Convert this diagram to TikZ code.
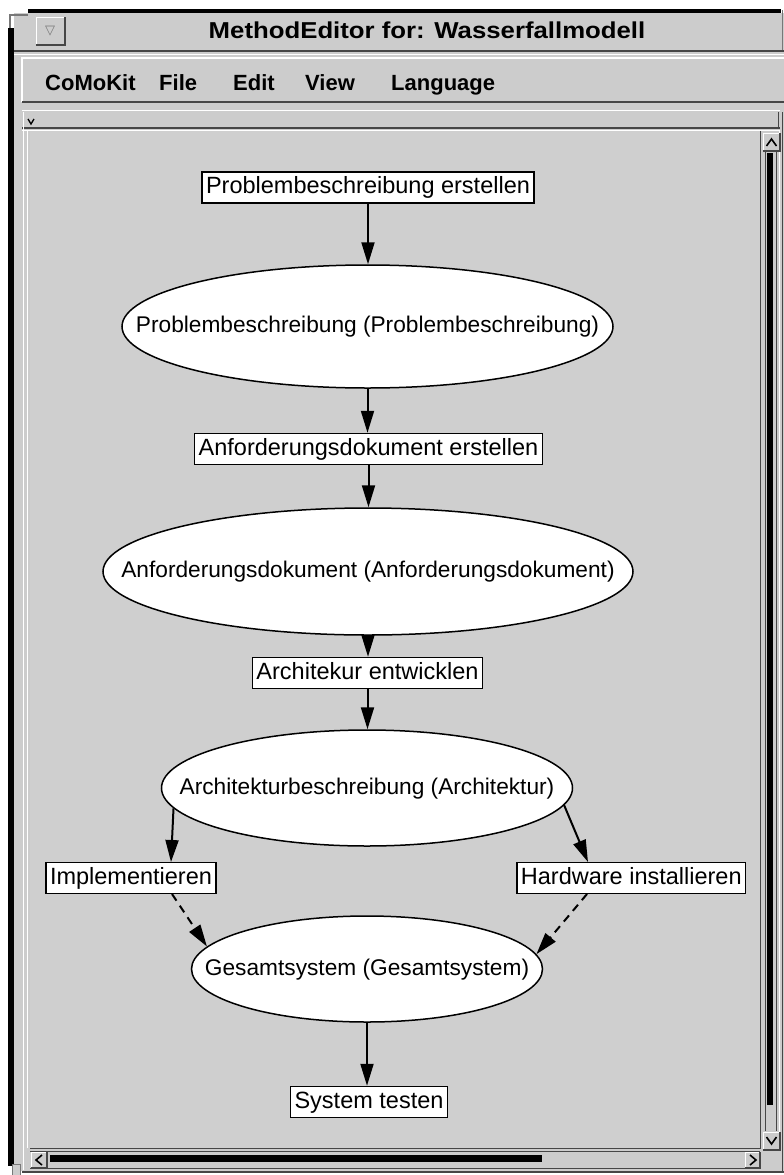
\documentclass[tikz,border=0pt]{standalone}
\usepackage{fontspec}
\setmainfont{Liberation Sans}
\newfontfamily\titlefont[FakeStretch=1.12]{Liberation Sans}
\newfontfamily\symfont{DejaVu Sans}
\usetikzlibrary{shapes.geometric,arrows.meta}
\definecolor{chrome}{RGB}{204,204,204}
\definecolor{canvasgray}{RGB}{207,207,207}
\definecolor{bevel}{RGB}{70,70,70}
\definecolor{glyph}{RGB}{120,120,120}

% ellipse text is boxed at zero width so that only the given size counts
\newcommand{\prodtext}[1]{\makebox[0pt]{#1}}

\tikzset{
  nodefont/.style={font=\fontsize{23.5}{27}\selectfont, text height=17pt, text depth=5pt},
  task/.style={nodefont, draw=black, line width=1.5pt, fill=white,
               inner xsep=4pt, inner ysep=4.5pt},
  product/.style={font=\fontsize{22.7}{27}\selectfont, text height=17pt, text depth=5pt,
                  ellipse, draw=black, line width=1.5pt, fill=white, inner sep=0pt},
  flow/.style={-{Triangle[length=22pt,width=13pt]}, line width=2pt},
  optflow/.style={flow, dash pattern=on 8pt off 6pt},
  menuitem/.style={anchor=base west, inner sep=0pt, font=\fontsize{22}{26}\selectfont\bfseries},
  chev/.style={line width=1.6pt, black},
}

\begin{document}
\begin{tikzpicture}[x=1pt,y=-1pt]
\useasboundingbox (0,0) rectangle (784,1175);
\fill[white] (0,0) rectangle (784,1175);

% ---------- window frame ----------
\fill[chrome] (14,13) rectangle (784,1171);
\fill[black] (28,9) rectangle (781,13);
\fill[black] (8,28) rectangle (14,1166);
\draw[glyph, line width=1.2pt] (10,28) -- (10,15) -- (28,15);
\draw[glyph, line width=1pt] (782,10) -- (782,50);

% title bar
\draw[white, line width=1pt] (36,45) -- (36,17) -- (65,17);
\draw[bevel, line width=1.5pt] (36,45) -- (65,45) -- (65,17);
\node[inner sep=0pt, text=glyph, font=\symfont\fontsize{13}{13}\selectfont] (menubtn) at (50,31) {▽};
\node[anchor=base, inner sep=0pt, font=\titlefont\fontsize{23}{26}\selectfont\bfseries] (title) at (427,38)
  {MethodEditor for: Wasserfallmodell};
\draw[bevel, line width=1.5pt] (14,51) -- (784,51);
\draw[white, line width=1pt] (14,54) -- (784,54);

% menu bar
\draw[white, line width=1.2pt] (22,102) -- (22,58) -- (784,58);
\draw[bevel, line width=2.5pt] (22,102) -- (784,102);
\node[menuitem] (mcomokit) at (45,90) {CoMoKit};
\node[menuitem] (mfile) at (159,90) {File};
\node[menuitem] (medit) at (233,90) {Edit};
\node[menuitem] (mview) at (305,90) {View};
\node[menuitem] (mlang) at (391,90) {Language};

% pane strip and canvas frame
\draw[white, line width=1pt] (22,110) -- (780,110);
\draw[chev, line width=1.3pt] (28,119) -- (31,124) -- (34,119);
\draw[bevel, line width=1.5pt] (22,128) -- (780,128);
\draw[white, line width=1pt] (22,130) -- (780,130);
\draw[white, line width=1pt] (23,112) -- (23,1170);
\draw[white, line width=1pt] (27,131) -- (27,1148);
\fill[canvasgray] (30,131) rectangle (760,1148);
\draw[bevel, line width=1.3pt] (30,1148.5) -- (760.5,1148.5) -- (760.5,131);
\draw[bevel, line width=1pt] (778,112) -- (778,128);

% vertical scrollbar
\draw[bevel, line width=1pt] (765,152) -- (765,1131);
\draw[bevel, line width=1pt] (776,152) -- (776,1131);
\draw[white, line width=1pt] (779,131) -- (779,1150);
\draw[bevel, line width=1pt] (782,112) -- (782,1171);
\fill[black] (767,153) rectangle (773,1105);
\draw[white, line width=1pt] (763,151) -- (763,133) -- (780,133);
\draw[bevel, line width=1.5pt] (763,151) -- (780,151) -- (780,133);
\draw[chev] (766.5,146) -- (771.5,139) -- (776.5,146);
\draw[white, line width=1pt] (763,1150) -- (763,1132) -- (780,1132);
\draw[bevel, line width=1.5pt] (763,1150) -- (780,1150) -- (780,1132);
\draw[chev] (766.5,1137) -- (771.5,1144) -- (776.5,1137);

% horizontal scrollbar
\draw[bevel, line width=1pt] (30,1151) -- (760,1151);
\draw[bevel, line width=1pt] (30,1168) -- (760,1168);
\fill[black] (50,1155) rectangle (542,1162);
\draw[white, line width=1pt] (31,1168) -- (31,1152) -- (47,1152);
\draw[bevel, line width=1.5pt] (31,1168) -- (47,1168) -- (47,1152);
\draw[chev] (42,1155) -- (36,1160) -- (42,1165);
\draw[white, line width=1pt] (745,1168) -- (745,1152) -- (760,1152);
\draw[bevel, line width=1.5pt] (745,1168) -- (760,1168) -- (760,1152);
\draw[chev] (750,1155) -- (756,1160) -- (750,1165);
\draw[bevel, line width=2pt] (22,1172) -- (784,1172);
\draw[glyph, fill=chrome, line width=1pt] (12,1164) rectangle (20,1175);

% ---------- method graph ----------
\node[task] (pbe) at (368,187.5) {Problembeschreibung erstellen};
\node[product, minimum width=491pt, minimum height=123pt] (pb) at (367.5,326.5)
  {\prodtext{Problembeschreibung (Problembeschreibung)}};
\node[task] (ade) at (368.5,449) {Anforderungsdokument erstellen};
\node[product, minimum width=530pt, minimum height=127pt] (ad) at (368,571.5)
  {\prodtext{Anforderungsdokument (Anforderungsdokument)}};
\node[task] (arch) at (367.5,673) {Architekur entwicklen};
\node[product, minimum width=411pt, minimum height=116pt] (ab) at (367,788)
  {\prodtext{Architekturbeschreibung (Architektur)}};
\node[task] (impl) at (131,878) {Implementieren};
\node[task] (hw) at (631.3,878) {Hardware installieren};
\node[product, minimum width=351pt, minimum height=106pt] (gs) at (367,969)
  {\prodtext{Gesamtsystem (Gesamtsystem)}};
\node[task] (test) at (369,1102) {System testen};

\coordinate (implin) at (171,862);
\coordinate (hwin) at (588,862);
\coordinate (implout) at (172,894);
\coordinate (hwout) at (587,894);

\draw[flow] (pbe.south) -- (pbe.south |- pb.north);
\draw[flow] (pb.south) -- (pb.south |- ade.north);
\draw[flow] (ade.south) -- (ade.south |- ad.north);
\draw[flow] (ad.south) -- (ad.south |- arch.north);
\draw[flow] (arch.south) -- (arch.south |- ab.north);
\draw[flow] (ab.186) -- (implin);
\draw[flow] (ab.-5.5) -- (hwin);
\draw[optflow] (implout) -- (gs.172.6);
\draw[optflow] (hwout) -- (gs.5.6);
\draw[flow] (gs.south) -- (gs.south |- test.north);
\end{tikzpicture}
\end{document}
